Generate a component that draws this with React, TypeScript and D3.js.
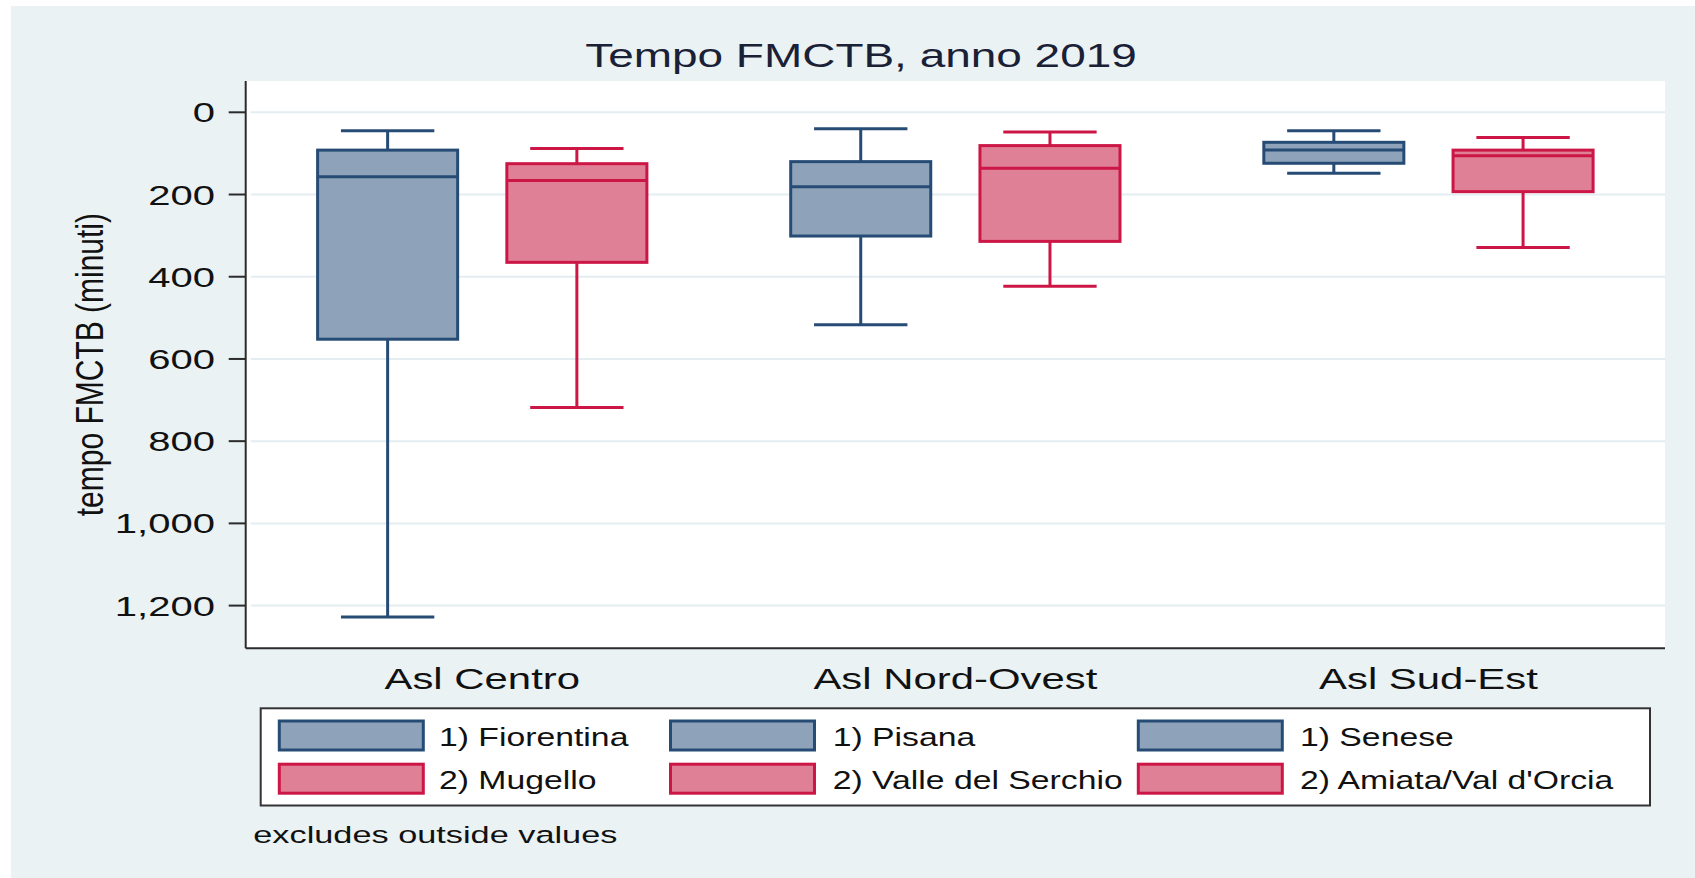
import React, { useEffect, useRef } from 'react';
import * as d3 from 'd3';

// categories on the x axis
const groups = ['Asl Centro', 'Asl Nord-Ovest', 'Asl Sud-Est'];
// legend names: first and second zone inside each Asl
const firstNames = ['1) Fiorentina', '1) Pisana', '1) Senese'];
const secondNames = ['2) Mugello', '2) Valle del Serchio', "2) Amiata/Val d'Orcia"];

// [lower adjacent, q1, median, q3, upper adjacent] in minutes
const firstStats = [
  [45, 92, 157, 552, 1228],
  [40, 120, 181, 301, 517],
  [45, 73, 92, 124, 148],
];
const secondStats = [
  [88, 125, 166, 365, 718],
  [48, 81, 136, 314, 423],
  [61, 92, 106, 193, 329],
];

const yTicks = [0, 200, 400, 600, 800, 1000, 1200];

const fills = ['#8ea3b9', '#e08097'];
const strokes = ['#264c75', '#cc1646'];
const FONT = '"Liberation Sans", Arial, sans-serif';

const App = () => {
  const svgRef = useRef(null);

  useEffect(() => {
    const svg = d3.select(svgRef.current);
    svg.selectAll('*').remove();

    const W = 1695;
    const H = 878;
    const plot = { left: 245.7, right: 1665, top: 81, bottom: 648.3 };

    // the picture is stretched sideways, so text gets a horizontal scale
    const addText = (sel, x, y, str, size, stretch, anchor = 'start', rotate = 0, color = '#111') => {
      sel.append('text')
        .attr('transform', `translate(${x},${y}) scale(${stretch},1)${rotate ? ` rotate(${rotate})` : ''}`)
        .attr('text-anchor', anchor)
        .style('font-family', FONT)
        .style('font-size', `${size}px`)
        .style('fill', color)
        .text(str);
    };

    svg.append('rect').attr('width', W).attr('height', H).attr('fill', '#ffffff');
    svg.append('rect').attr('x', 11).attr('y', 6).attr('width', W - 11).attr('height', H - 6).attr('fill', '#eaf2f3');
    svg.append('rect')
      .attr('x', plot.left).attr('y', plot.top)
      .attr('width', plot.right - plot.left).attr('height', plot.bottom - plot.top)
      .attr('fill', '#ffffff');

    const y = d3.scaleLinear().domain([0, 1200]).range([112.3, 605.6]);
    const x0 = d3.scaleBand().domain(groups).range([plot.left, plot.right]);
    const x1 = d3.scaleBand().domain(['1', '2']).range([0, x0.bandwidth()]).paddingInner(0.26).paddingOuter(0.38);

    // grid
    svg.append('g').selectAll('line')
      .data(yTicks)
      .enter()
      .append('line')
      .attr('x1', plot.left + 5).attr('x2', plot.right)
      .attr('y1', (d) => y(d)).attr('y2', (d) => y(d))
      .attr('stroke', '#e4edf1').attr('stroke-width', 2);

    // y axis
    const yAxis = svg.append('g');
    yAxis.append('line')
      .attr('x1', plot.left).attr('x2', plot.left)
      .attr('y1', plot.top).attr('y2', plot.bottom)
      .attr('stroke', '#2b2b2b').attr('stroke-width', 2);
    yTicks.forEach((t) => {
      yAxis.append('line')
        .attr('x1', plot.left - 17).attr('x2', plot.left)
        .attr('y1', y(t)).attr('y2', y(t))
        .attr('stroke', '#2b2b2b').attr('stroke-width', 2);
      addText(yAxis, 215, y(t) + 10, d3.format(',')(t), 28, 1.43, 'end');
    });
    addText(svg, 102.5, (plot.top + plot.bottom) / 2, 'tempo FMCTB (minuti)', 30, 1.3, 'middle', -90);

    // x axis
    svg.append('line')
      .attr('x1', plot.left).attr('x2', plot.right)
      .attr('y1', plot.bottom).attr('y2', plot.bottom)
      .attr('stroke', '#2b2b2b').attr('stroke-width', 2);
    groups.forEach((gname) => {
      addText(svg, x0(gname) + x0.bandwidth() / 2, 689, gname, 29.5, 1.42, 'middle');
    });

    // boxes
    const boxes = [];
    groups.forEach((gname, i) => {
      boxes.push({ group: gname, key: '1', s: 0, stats: firstStats[i] });
      boxes.push({ group: gname, key: '2', s: 1, stats: secondStats[i] });
    });

    const bw = x1.bandwidth();
    const boxG = svg.append('g')
      .selectAll('g')
      .data(boxes)
      .enter()
      .append('g')
      .attr('transform', (d) => `translate(${x0(d.group) + x1(d.key)},0)`);

    boxG.append('line')
      .attr('x1', bw / 2).attr('x2', bw / 2)
      .attr('y1', (d) => y(d.stats[0])).attr('y2', (d) => y(d.stats[1]))
      .attr('stroke', (d) => strokes[d.s]).attr('stroke-width', 3);
    boxG.append('line')
      .attr('x1', bw / 2).attr('x2', bw / 2)
      .attr('y1', (d) => y(d.stats[3])).attr('y2', (d) => y(d.stats[4]))
      .attr('stroke', (d) => strokes[d.s]).attr('stroke-width', 3);
    [0, 4].forEach((k) => {
      boxG.append('line')
        .attr('x1', bw / 6).attr('x2', (bw * 5) / 6)
        .attr('y1', (d) => y(d.stats[k])).attr('y2', (d) => y(d.stats[k]))
        .attr('stroke', (d) => strokes[d.s]).attr('stroke-width', 3);
    });
    boxG.append('rect')
      .attr('x', 0).attr('width', bw)
      .attr('y', (d) => y(d.stats[1]))
      .attr('height', (d) => y(d.stats[3]) - y(d.stats[1]))
      .attr('fill', (d) => fills[d.s])
      .attr('stroke', (d) => strokes[d.s]).attr('stroke-width', 3);
    boxG.append('line')
      .attr('x1', 0).attr('x2', bw)
      .attr('y1', (d) => y(d.stats[2])).attr('y2', (d) => y(d.stats[2]))
      .attr('stroke', (d) => strokes[d.s]).attr('stroke-width', 3);

    // title
    addText(svg, 861, 66.7, 'Tempo FMCTB, anno 2019', 32.6, 1.41, 'middle', 0, '#1a2036');

    // legend
    const legend = svg.append('g');
    legend.append('rect')
      .attr('x', 260.7).attr('y', 708.3)
      .attr('width', 1650 - 260.7).attr('height', 805.5 - 708.3)
      .attr('fill', '#ffffff').attr('stroke', '#333333').attr('stroke-width', 2);
    const colX = [279.3, 670.5, 1138.3];
    const labelX = [439, 832.7, 1300];
    const rowY = [735.5, 778.7];
    groups.forEach((_, i) => {
      [firstNames[i], secondNames[i]].forEach((name, r) => {
        legend.append('rect')
          .attr('x', colX[i]).attr('y', rowY[r] - 14.5)
          .attr('width', 144).attr('height', 29)
          .attr('fill', fills[r]).attr('stroke', strokes[r]).attr('stroke-width', 3);
        addText(legend, labelX[i], rowY[r] + 10.5, name, 25, 1.35, 'start');
      });
    });

    addText(svg, 253.3, 842.7, 'excludes outside values', 24.5, 1.4, 'start');
  }, []);

  return (
    <svg
      ref={svgRef}
      width={1695}
      height={878}
      style={{ position: 'absolute', left: 0, top: 0, display: 'block' }}
    />
  );
};

export default App;
